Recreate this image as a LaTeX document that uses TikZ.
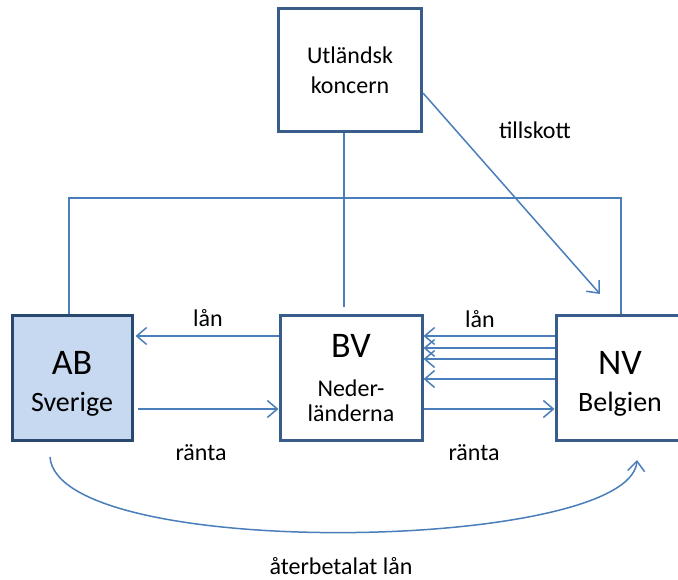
\documentclass[tikz,border=0pt]{standalone}
\usepackage{fontspec}
\setmainfont{Carlito}
\usetikzlibrary{arrows.meta}
\definecolor{boxline}{RGB}{56,93,138}
\definecolor{abline}{RGB}{40,72,112}
\definecolor{abfill}{RGB}{198,217,241}
\definecolor{conn}{RGB}{74,126,187}
\newcommand\bigname[1]{{\fontsize{36}{37}\selectfont\rule{0pt}{35pt}#1}}
\begin{document}
\begin{tikzpicture}[x=1pt,y=-1pt,
  entity/.style={draw=boxline, line width=3pt, fill=white, inner sep=0pt,
    align=center, font=\fontsize{24}{30}\selectfont},
  link/.style={draw=conn, line width=1.5pt},
  flow/.style={link, -{Straight Barb[length=10pt,width=17pt]}},
  lbl/.style={font=\fontsize{24}{29}\selectfont, inner sep=0pt}]
\useasboundingbox (0,0) rectangle (678,580);
\clip (0,0) rectangle (678,580);

% companies
\node[entity, minimum width=143pt, minimum height=123pt] (utl) at (350,70) {Utländsk\\koncern};
\node[entity, draw=abline, fill=abfill, minimum width=120pt, minimum height=125pt,
  font=\fontsize{28}{37}\selectfont] (ab) at (72,378) {\bigname{AB}\\Sverige};
\node[entity, minimum width=142pt, minimum height=125pt,
  font=\fontsize{24}{25}\selectfont] (bv) at (351,378) {{\fontsize{36}{36}\selectfont BV}\\[14pt]Neder-\\länderna};
\node[entity, minimum width=128pt, minimum height=125pt,
  font=\fontsize{28}{37}\selectfont] (nv) at (620,378) {\bigname{NV}\\Belgien};

% ownership lines
\coordinate (frameL) at (69,198);
\coordinate (frameR) at (621,198);
\coordinate (drop) at (344,307);
\draw[link] (ab.north -| frameL) -- (frameL) -- (frameR) -- (nv.north -| frameR);
\draw[link] (utl.south -| drop) -- (drop);

% capital contribution
\coordinate (tipT) at (600,294);
\draw[flow] ([yshift=-23pt]utl.east) -- (tipT);
\node[lbl] (tillskott) at (535,130) {tillskott};

% loans and interest between AB and BV
\draw[flow, shorten >=2pt] ([yshift=42pt]bv.west) -- ([yshift=42pt]ab.east);
\draw[flow, shorten <=4pt] ([yshift=-31pt]ab.east) -- ([yshift=-31pt]bv.west);
\node[lbl] (lanL) at (208,318) {lån};
\node[lbl] (rantaL) at (201,453) {ränta};

% loans and interest between BV and NV
\foreach \s in {42,30,19,-1}
  \draw[flow] ([yshift=\s pt]nv.west) -- ([yshift=\s pt]bv.east);
\draw[flow] ([yshift=-31pt]bv.east) -- ([yshift=-31pt]nv.west);
\node[lbl] (lanR) at (480,319) {lån};
\node[lbl] (rantaR) at (474,453) {ränta};

% repaid loan
\draw[flow] ([xshift=-22pt,yshift=-15pt]ab.south) .. controls +(8,105) and +(-7,92) .. ([xshift=17pt,yshift=-18pt]nv.south);
\node[lbl] (repaid) at (341,566) {återbetalat lån};
\end{tikzpicture}
\end{document}
